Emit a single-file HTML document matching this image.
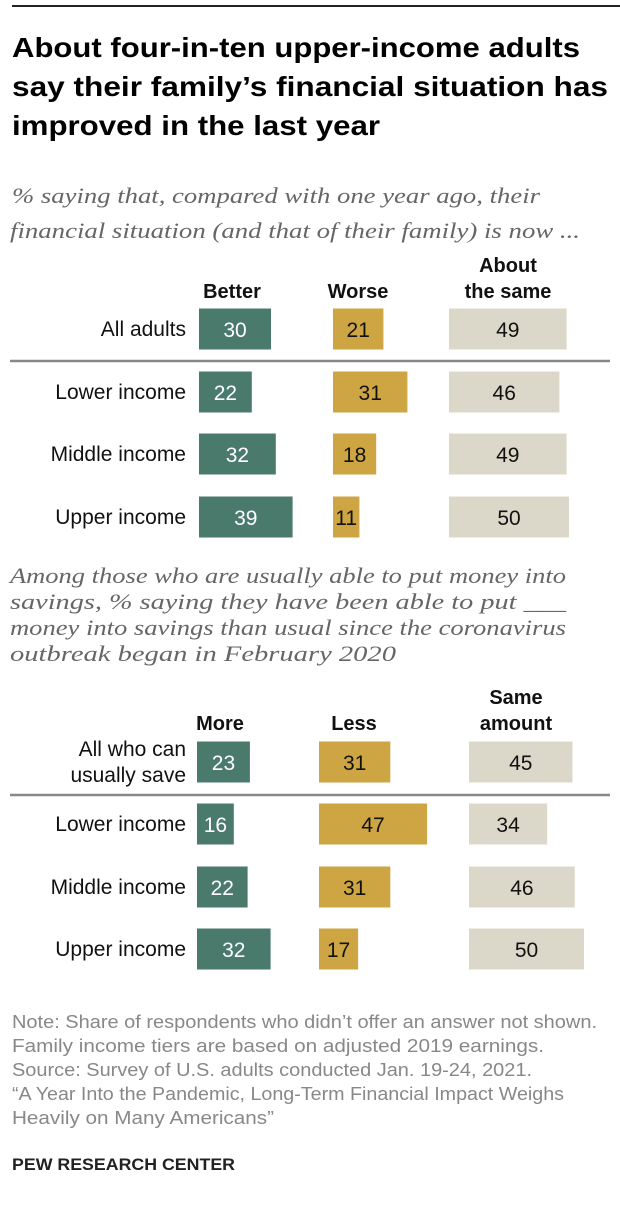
<!DOCTYPE html>
<html><head><meta charset="utf-8"><style>
body{margin:0;background:#fff;}
#root{position:relative;width:620px;height:1210px;overflow:hidden;font-family:"Liberation Sans",sans-serif;}
</style></head><body>
<div id="root">
<svg width="620" height="1210" style="position:absolute;left:0;top:0">
<line x1="12" y1="6" x2="620" y2="6" stroke="#222" stroke-width="2"/>
<g font-weight="bold" font-size="28" fill="#000">
<text x="12" y="57" textLength="568" lengthAdjust="spacingAndGlyphs">About four-in-ten upper-income adults</text>
<text x="12" y="96" textLength="596" lengthAdjust="spacingAndGlyphs">say their family’s financial situation has</text>
<text x="12" y="135" textLength="368" lengthAdjust="spacingAndGlyphs">improved in the last year</text>
</g>
<g font-family="Liberation Serif, serif" font-style="italic" font-size="22" fill="#666">
<text x="12" y="203" textLength="528" lengthAdjust="spacingAndGlyphs">% saying that, compared with one year ago, their</text>
<text x="10" y="238" textLength="570" lengthAdjust="spacingAndGlyphs">financial situation (and that of their family) is now ...</text>
</g>
<g font-family="Liberation Serif, serif" font-style="italic" font-size="22" fill="#666">
<text x="10" y="583" textLength="556" lengthAdjust="spacingAndGlyphs">Among those who are usually able to put money into</text>
<text x="10" y="609" textLength="556" lengthAdjust="spacingAndGlyphs">savings, % saying they have been able to put ___</text>
<text x="10" y="635" textLength="556" lengthAdjust="spacingAndGlyphs">money into savings than usual since the coronavirus</text>
<text x="10" y="661" textLength="386" lengthAdjust="spacingAndGlyphs">outbreak began in February 2020</text>
</g>
<g font-size="18" fill="#888">
<text x="12" y="1028" textLength="585" lengthAdjust="spacingAndGlyphs">Note: Share of respondents who didn’t offer an answer not shown.</text>
<text x="12" y="1052" textLength="532" lengthAdjust="spacingAndGlyphs">Family income tiers are based on adjusted 2019 earnings.</text>
<text x="12" y="1076" textLength="520" lengthAdjust="spacingAndGlyphs">Source: Survey of U.S. adults conducted Jan. 19-24, 2021.</text>
<text x="12" y="1100" textLength="552" lengthAdjust="spacingAndGlyphs">“A Year Into the Pandemic, Long-Term Financial Impact Weighs</text>
<text x="12" y="1124" textLength="262" lengthAdjust="spacingAndGlyphs">Heavily on Many Americans”</text>
</g>
<text x="12" y="1170" font-size="17" font-weight="bold" fill="#222" textLength="223" lengthAdjust="spacingAndGlyphs">PEW RESEARCH CENTER</text>
<g id="c1"></g><g id="c2"></g>
</svg>
</div>
<script>
const cats1 = [["All adults"],["Lower income"],["Middle income"],["Upper income"]];
const better = [30,22,32,39];
const worse = [21,31,18,11];
const same1 = [49,46,49,50];
const heads1 = [["Better"],["Worse"],["About","the same"]];
const cats2 = [["All who can","usually save"],["Lower income"],["Middle income"],["Upper income"]];
const more = [23,16,22,32];
const less = [31,47,31,17];
const same2 = [45,34,46,50];
const heads2 = [["More"],["Less"],["Same","amount"]];
const NS="http://www.w3.org/2000/svg";
const colors=["#4a7a6b","#cda643","#dcd8c9"];
const txtc=["#fff","#111","#111"];
function mk(t,a,p){const e=document.createElementNS(NS,t);for(const k in a)e.setAttribute(k,a[k]);p.appendChild(e);return e;}
function draw(g,cats,series,heads,starts,scale,rowY,sepY,headY,names,hoff){
  const xf=v=>v*scale;
  mk('line',{x1:10,x2:610,y1:sepY,y2:sepY,stroke:'#888','stroke-width':2.5},g);
  heads.forEach((h,j)=>{
    const cx=starts[j]+hoff[j];
    h.forEach((l,k)=>{
      const t=mk('text',{x:cx,y:headY-(h.length-1-k)*26,'text-anchor':'middle','font-weight':'bold','font-size':20,fill:'#111'},g);
      t.textContent=l;
      
      
    });
  });
  cats.forEach((c,i)=>{
    const cy=rowY[i];
    c.forEach((l,k)=>{
      const t=mk('text',{x:186,y:cy+7-(c.length-1)*13+k*26,'text-anchor':'end','font-size':21,fill:'#111'},g);
      t.textContent=l;
      
      
    });
    series.forEach((s,j)=>{
      const w=xf(s[i]);
      const r=mk('rect',{x:starts[j],y:cy-20.5,width:w,height:41,fill:colors[j]},g);
      
      
      const t=mk('text',{x:starts[j]+w/2,y:cy+8,'text-anchor':'middle','font-size':21,fill:txtc[j]},g);
      t.textContent=s[i];
      
      
    });
  });
}
draw(document.getElementById('c1'),cats1,[better,worse,same1],heads1,[199,333,449],2.4,[329,392,454,517],361,298,['better','worse','same'],[33,25,59]);
draw(document.getElementById('c2'),cats2,[more,less,same2],heads2,[197,319,469],2.3,[762,824,887,949],795,730,['more','less','same-amount'],[23,35,47]);
</script>
</body></html>
